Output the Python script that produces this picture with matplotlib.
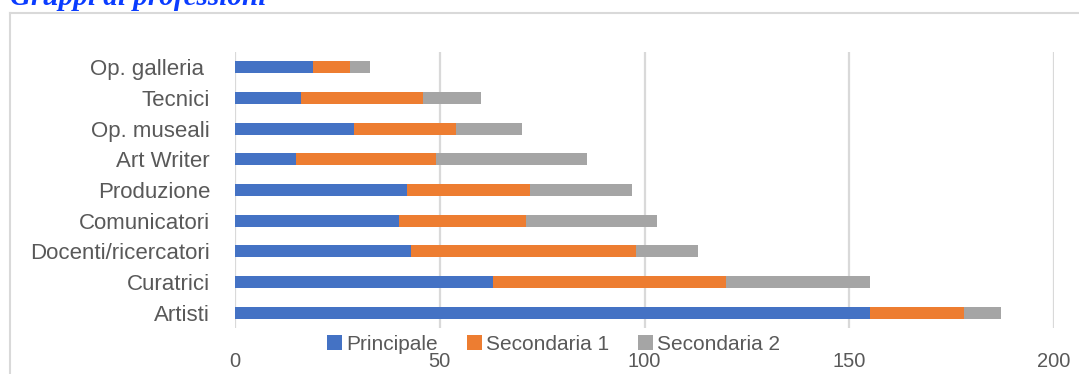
import numpy as np
import matplotlib
matplotlib.use("Agg")
import matplotlib.pyplot as plt
from matplotlib.lines import Line2D

# professional groups, top to bottom as drawn
categories = [
    "Op. galleria ",
    "Tecnici",
    "Op. museali",
    "Art Writer",
    "Produzione",
    "Comunicatori",
    "Docenti/ricercatori",
    "Curatrici",
    "Artisti",
]
principale = [19, 16, 29, 15, 42, 40, 43, 63, 155]
secondaria_1 = [9, 30, 25, 34, 30, 31, 55, 57, 23]
secondaria_2 = [5, 14, 16, 37, 25, 32, 15, 35, 9]
series_names = ["Principale", "Secondaria 1", "Secondaria 2"]
colors = ["#4472C4", "#ED7D31", "#A5A5A5"]
x_ticks = [0, 50, 100, 150, 200]

text_gray = "#595959"
grid_gray = "#D9D9D9"

plt.rcParams["font.family"] = ["Liberation Sans", "DejaVu Sans"]

fig = plt.figure(figsize=(10.79, 3.74), dpi=100)
ax = fig.add_axes([235 / 1079, 1 - 328 / 374, (1054 - 235) / 1079, (328 - 52) / 374])

y = np.arange(len(categories))
left = np.zeros(len(categories))
for vals, name, col in zip([principale, secondaria_1, secondaria_2], series_names, colors):
    ax.barh(y, vals, left=left, height=0.39, color=col, label=name, zorder=3)
    left = left + np.array(vals)

ax.set_ylim(len(categories) - 0.5, -0.5)
ax.set_xlim(0, 200)
ax.set_yticks(y)
ax.set_yticklabels(categories, fontsize=16, color=text_gray)
ax.set_xticks(x_ticks)
ax.set_xticklabels([str(t) for t in x_ticks], fontsize=14.5, color=text_gray)
ax.tick_params(axis="y", length=0, pad=18)
ax.tick_params(axis="x", length=0, pad=17)

ax.grid(axis="x", color=grid_gray, linewidth=1.6, zorder=0)
for s in ax.spines.values():
    s.set_visible(False)

leg = ax.legend(
    loc="center",
    bbox_to_anchor=(553.5 / 1079, 1 - 344.5 / 374),
    bbox_transform=fig.transFigure,
    ncol=3,
    frameon=False,
    fontsize=15,
    handlelength=0.72,
    handleheight=0.72,
    handletextpad=0.2,
    columnspacing=1.4,
)
for t in leg.get_texts():
    t.set_color(text_gray)

# outer chart frame (only top and left edges fall inside the canvas)
fig.add_artist(Line2D([9.5 / 1079, 9.5 / 1079], [0, 1 - 13 / 374],
                      transform=fig.transFigure, color=grid_gray, linewidth=1.5))
fig.add_artist(Line2D([9.5 / 1079, 1], [1 - 13 / 374, 1 - 13 / 374],
                      transform=fig.transFigure, color=grid_gray, linewidth=1.5))

fig.text(10 / 1079, 1 - 5 / 374, "Gruppi di professioni", fontsize=21,
         family=["Liberation Serif", "DejaVu Serif"], style="italic",
         weight="bold", color="#0A3CFF", va="baseline", ha="left")

fig.savefig("out.png", dpi=100)
